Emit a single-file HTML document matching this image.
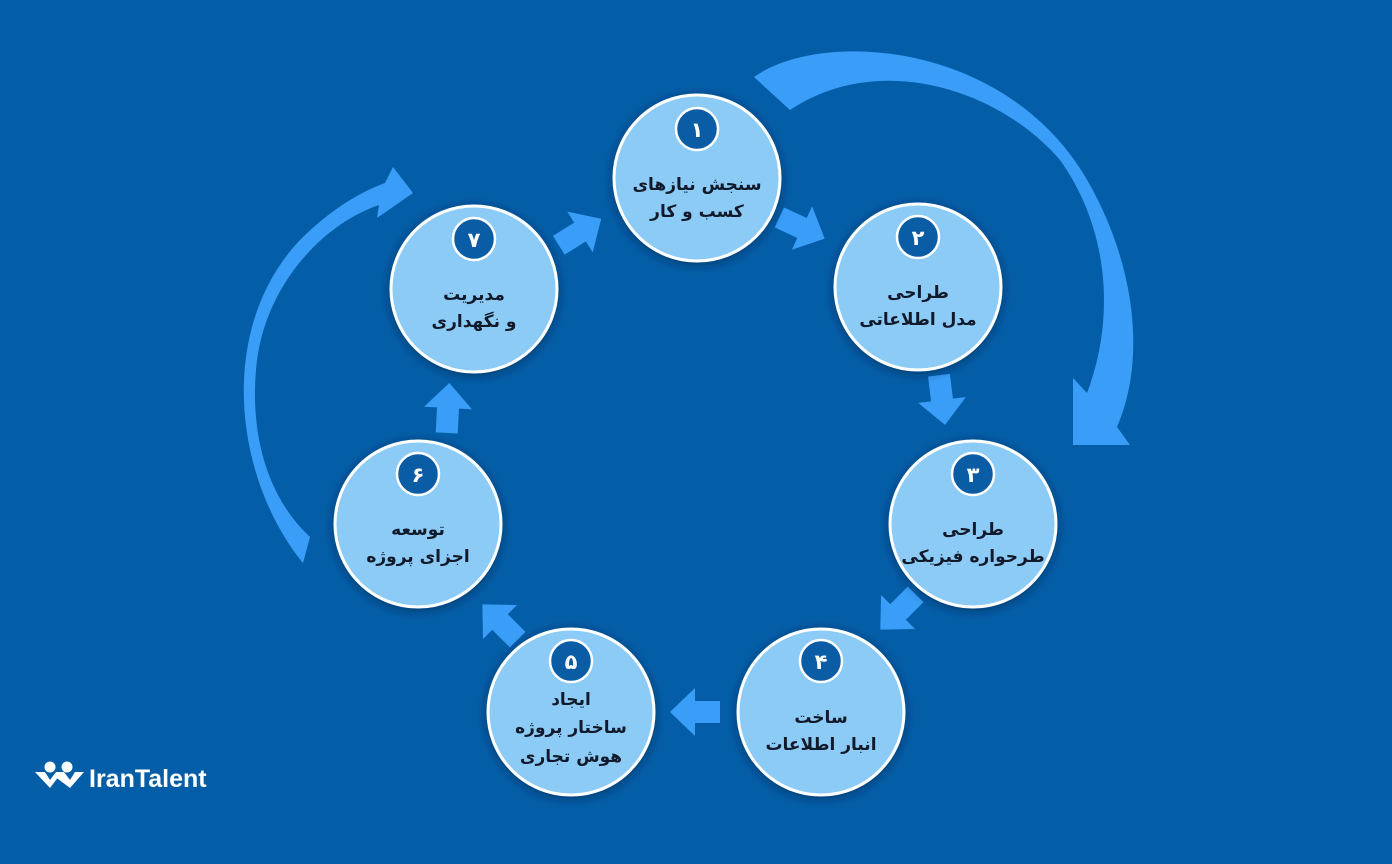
<!DOCTYPE html>
<html><head><meta charset="utf-8"><style>
html,body{margin:0;padding:0;background:#045ea7;}
svg{display:block}
.t{font-family:"DejaVu Sans",sans-serif;font-weight:bold;font-size:17px;fill:#111a2a;text-anchor:middle;direction:rtl}
.n{font-family:"DejaVu Sans",sans-serif;font-weight:bold;font-size:21px;fill:#fff;text-anchor:middle}
</style></head><body>
<svg width="1392" height="864" viewBox="0 0 1392 864" xmlns="http://www.w3.org/2000/svg">
<defs>
<filter id="sh" x="-30%" y="-30%" width="160%" height="160%"><feDropShadow dx="0" dy="2" stdDeviation="5" flood-color="#002040" flood-opacity="0.6"/></filter>
<g id="ar"><polygon points="-25,-11 0,-11 0,-24 25,0 0,24 0,11 -25,11" fill="#3a9ef8"/></g>
</defs>
<rect width="1392" height="864" fill="#045ea7"/>
<path d="M754,77 C820,30 1000,40 1083,173 C1130,250 1150,350 1117,427 L1130,445 L1073,445 L1073,378 L1087,393 C1115,320 1110,230 1060,160 C1000,90 880,50 790,110 Z" fill="#3a9ef8"/>
<path d="M303,563 C235,480 215,330 300,240 C330,210 360,192 385,183 L393,167 L413,193 L377,218 L379,205 C320,225 262,290 256,370 C250,440 270,500 310,537 Z" fill="#3a9ef8"/>
<use href="#ar" transform="translate(802,228) rotate(25)"/>
<use href="#ar" transform="translate(942,400) rotate(83)"/>
<use href="#ar" transform="translate(898,612) rotate(135)"/>
<use href="#ar" transform="translate(695,712) rotate(180)"/>
<use href="#ar" transform="translate(500,622) rotate(225)"/>
<use href="#ar" transform="translate(448,408) rotate(-87)"/>
<use href="#ar" transform="translate(580,232) rotate(-32)"/>
<g filter="url(#sh)" fill="#8dcbf7" stroke="#fff" stroke-width="3">
<circle cx="697" cy="178" r="83"/>
<circle cx="918" cy="287" r="83"/>
<circle cx="973" cy="524" r="83"/>
<circle cx="821" cy="712" r="83"/>
<circle cx="571" cy="712" r="83"/>
<circle cx="418" cy="524" r="83"/>
<circle cx="474" cy="289" r="83"/>
</g>
<g fill="#0a5ca5" stroke="#fff" stroke-width="2.5">
<circle cx="697" cy="129" r="21"/>
<circle cx="918" cy="237" r="21"/>
<circle cx="973" cy="474" r="21"/>
<circle cx="821" cy="661" r="21"/>
<circle cx="571" cy="661" r="21"/>
<circle cx="418" cy="474" r="21"/>
<circle cx="474" cy="239" r="21"/>
</g>
<text class="n" x="697" y="137">۱</text>
<text class="n" x="918" y="245">۲</text>
<text class="n" x="973" y="482">۳</text>
<text class="n" x="821" y="669">۴</text>
<text class="n" x="571" y="669">۵</text>
<text class="n" x="418" y="482">۶</text>
<text class="n" x="474" y="247">۷</text>
<text class="t" x="697" y="190">سنجش نیازهای</text>
<text class="t" x="697" y="217">کسب و کار</text>
<text class="t" x="918" y="298">طراحی</text>
<text class="t" x="918" y="325">مدل اطلاعاتی</text>
<text class="t" x="973" y="535">طراحی</text>
<text class="t" x="973" y="562">طرحواره فیزیکی</text>
<text class="t" x="821" y="723">ساخت</text>
<text class="t" x="821" y="750">انبار اطلاعات</text>
<text class="t" x="571" y="705">ایجاد</text>
<text class="t" x="571" y="733">ساختار پروژه</text>
<text class="t" x="571" y="762">هوش تجاری</text>
<text class="t" x="418" y="535">توسعه</text>
<text class="t" x="418" y="562">اجزای پروژه</text>
<text class="t" x="474" y="300">مدیریت</text>
<text class="t" x="474" y="327">و نگهداری</text>
<g fill="#fff">
<circle cx="50" cy="767" r="5.5"/><circle cx="67" cy="767" r="5.5"/>
<polygon points="35,772 45,772 50,780 56,772 62,772 50,788"/>
<polygon points="54,776 58,772 64,772 70,780 75,772 84,772 70,788"/>
<text x="89" y="787" font-family="Liberation Sans, sans-serif" font-weight="bold" font-size="25" fill="#fff">IranTalent</text>
</g>
</svg>
</body></html>
